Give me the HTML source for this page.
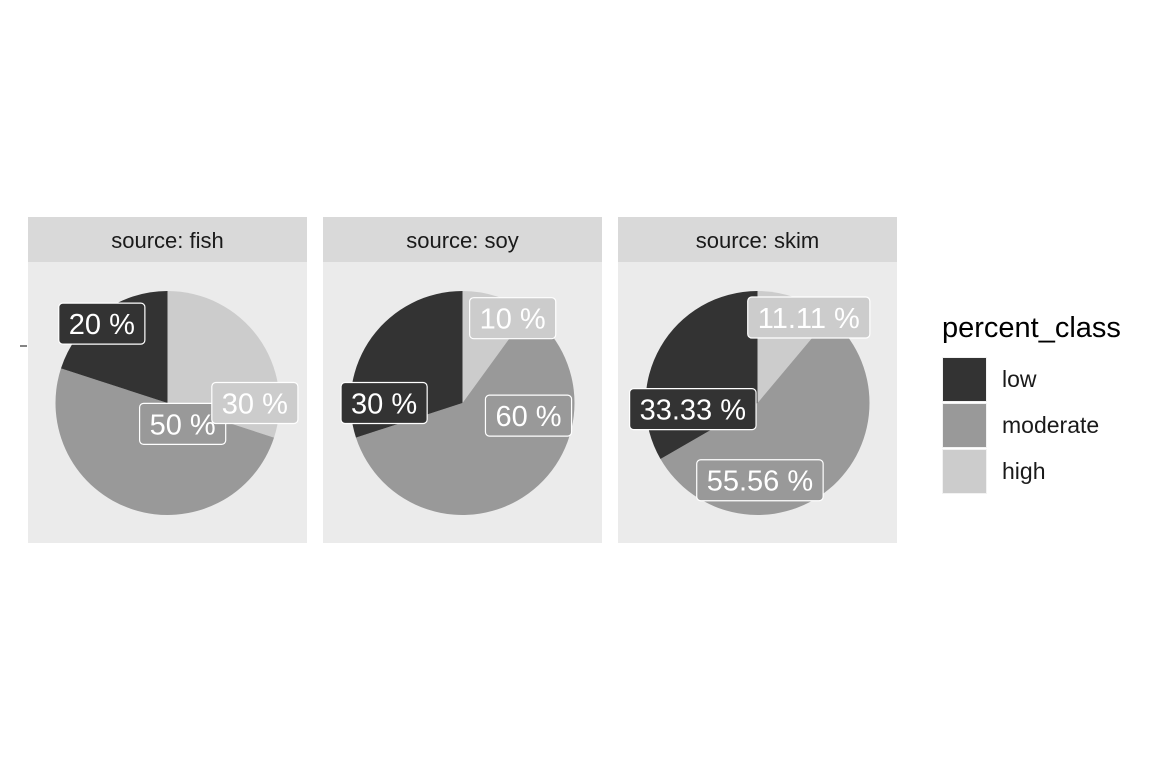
<!DOCTYPE html>
<html><head><meta charset="utf-8"><style>
body{margin:0;background:#fff;width:1152px;height:768px;overflow:hidden}
text{font-family:"Liberation Sans",sans-serif}
</style></head><body>
<svg id="c" width="1152" height="768" xmlns="http://www.w3.org/2000/svg"></svg>
<script>
const facets=["fish","soy","skim"];
const classes=["low","moderate","high"];
const colors=["#333333","#999999","#cccccc"];
const lowVals=[20,30,33.33];
const modVals=[50,60,55.56];
const highVals=[30,10,11.11];
const labelTexts=[["20 %","50 %","30 %"],["30 %","60 %","10 %"],["33.33 %","55.56 %","11.11 %"]];
// label placement (angle fraction from top clockwise, radius fraction)
const labelAng=[[0.89,0.40,0.25],[0.75,0.28,0.085],[0.735,0.495,0.086]];
const labelRad=[[0.92,0.23,0.78],[0.70,0.60,0.88],[0.58,0.69,0.89]];
const NS="http://www.w3.org/2000/svg";
const svg=document.getElementById('c');
function el(t,a,p){const e=document.createElementNS(NS,t);for(const k in a)e.setAttribute(k,a[k]);(p||svg).appendChild(e);return e;}
const px0=[28,323,618],pw=279,R=112;
function pt(cx,cy,f,r){const a=f*2*Math.PI;return [cx+r*Math.sin(a),cy-r*Math.cos(a)];}
facets.forEach((f,i)=>{
  const g=el('g',{});
  
  
  const x=px0[i];
  const s=el('rect',{x:x,y:217,width:pw,height:45,fill:'#d9d9d9'},g);
  
  const st=el('text',{x:x+pw/2,y:248,'text-anchor':'middle','font-size':22,fill:'#1a1a1a'},g);st.textContent='source: '+f;
  
  const p=el('rect',{x:x,y:262,width:pw,height:281,fill:'#ebebeb'},g);
  
  const cx=x+pw/2,cy=403;
  const vals=[highVals[i],modVals[i],lowVals[i]];const ci=[2,1,0];
  const tot=vals.reduce((a,b)=>a+b,0);let c=0;
  vals.forEach((v,j)=>{
    const f0=c/tot,f1=(c+v)/tot;c+=v;
    const a=pt(cx,cy,f0,R),b=pt(cx,cy,f1,R);
    const path=el('path',{d:`M${cx},${cy}L${a[0]},${a[1]}A${R},${R} 0 ${f1-f0>0.5?1:0} 1 ${b[0]},${b[1]}Z`,fill:colors[ci[j]]},g);
    
    
  });
  [0,1,2].forEach(k=>{
    const q=pt(cx,cy,labelAng[i][k],labelRad[i][k]*R);
    const t=labelTexts[i][k];
    const lg=el('g',{},g);
    
    
    const r=el('rect',{y:q[1]-20.5,height:41,rx:4,fill:colors[k],stroke:'#fff','stroke-width':1.2},lg);
    const tx=el('text',{x:q[0],y:q[1]+10.5,'text-anchor':'middle','font-size':29,fill:'#fff'},lg);tx.textContent=t;
    const w=tx.getComputedTextLength()+20;
    r.setAttribute('x',q[0]-w/2);r.setAttribute('width',w);
  });
});
const tk=el('line',{x1:20,x2:27,y1:346,y2:346,stroke:'#333','stroke-width':1.2});

const lt=el('text',{x:942,y:337,'font-size':29,fill:'#000'});lt.textContent='percent_class';

classes.forEach((k,j)=>{
  const g=el('g',{});
  
  
  el('rect',{x:942,y:357+j*46,width:45,height:45,fill:'#f2f2f2'},g);
  el('rect',{x:943,y:358+j*46,width:43,height:43,fill:colors[j]},g);
  const t=el('text',{x:1002,y:387+j*46,'font-size':23,fill:'#1a1a1a'},g);t.textContent=k;
});
</script>
</body></html>
